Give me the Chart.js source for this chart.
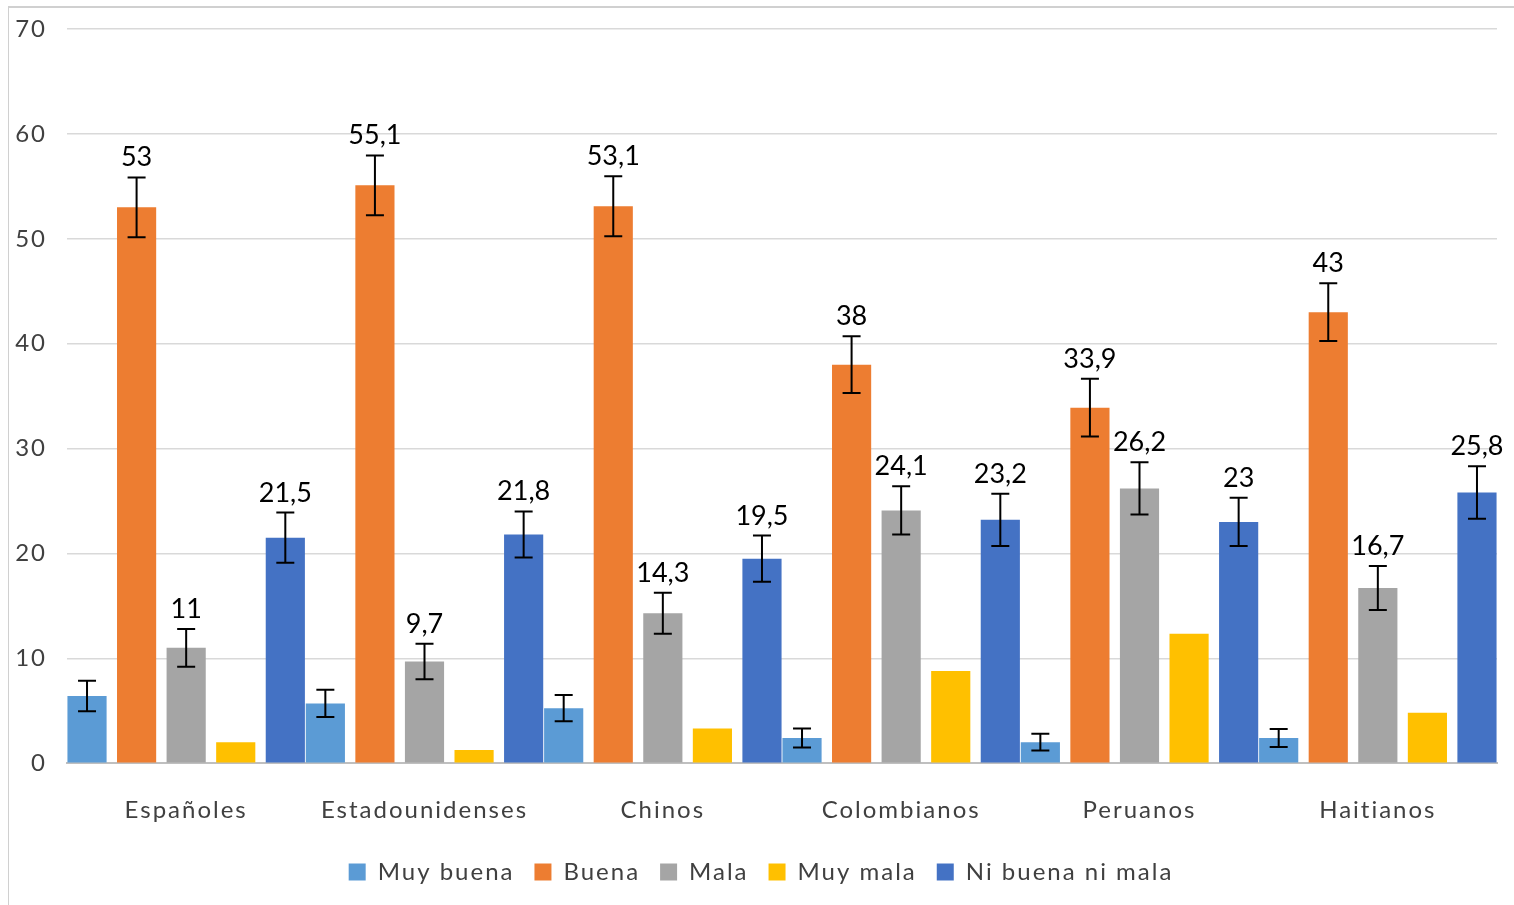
<!DOCTYPE html>
<html>
<head>
<meta charset="utf-8">
<script src="https://cdn.jsdelivr.net/npm/chart.js@4.4.1/dist/chart.umd.min.js"></script>
<style>
  body { margin: 0; background: #fff; }
  #wrap { position: relative; width: 1514px; height: 905px; }
  #frame { position: absolute; left: 8px; top: 6px; right: 0; bottom: 0;
           border-left: 1px solid #d0d0d0; border-top: 2px solid #d0d0d0; pointer-events: none; }
</style>
</head>
<body>
<div id="wrap"><canvas id="chart"></canvas><div id="frame"></div></div>
<script>
const categories = ["Españoles", "Estadounidenses", "Chinos", "Colombianos", "Peruanos", "Haitianos"];

const muyBuena = [6.4, 5.7, 5.25, 2.4, 2.0, 2.4];
const buena = [53, 55.1, 53.1, 38, 33.9, 43];
const mala = [11, 9.7, 14.3, 24.1, 26.2, 16.7];
const muyMala = [2.0, 1.25, 3.3, 8.8, 12.35, 4.8];
const niBuenaNiMala = [21.5, 21.8, 19.5, 23.2, 23, 25.8];

// error bar half-widths (same order)
const errMuyBuena = [1.45, 1.3, 1.25, 0.9, 0.8, 0.85];
const errBuena = [2.85, 2.85, 2.85, 2.7, 2.75, 2.75];
const errMala = [1.8, 1.7, 1.95, 2.3, 2.5, 2.1];
const errNi = [2.4, 2.2, 2.2, 2.5, 2.3, 2.5];

const yTicks = [0, 10, 20, 30, 40, 50, 60, 70];

const FONT = "Lato";
const TEXT = "#404040";

// letter spacing for axis and legend text (canvas state gets reset on resize)
const spacing = {
  id: "spacing",
  beforeUpdate(chart) { chart.ctx.letterSpacing = "2px"; },
  beforeLayout(chart) { chart.ctx.letterSpacing = "2px"; },
  beforeDraw(chart) { chart.ctx.letterSpacing = "2px"; }
};

// error bars + value labels
const errorBars = {
  id: "errorBars",
  afterDatasetsDraw(chart) {
    const ctx = chart.ctx;
    const y = chart.scales.y;
    ctx.save();
    ctx.letterSpacing = "0px";
    chart.data.datasets.forEach((ds, i) => {
      if (!ds.err) return;
      const meta = chart.getDatasetMeta(i);
      meta.data.forEach((bar, j) => {
        const v = ds.data[j], e = ds.err[j];
        const top = y.getPixelForValue(v + e);
        const bot = y.getPixelForValue(v - e);
        ctx.strokeStyle = "#000";
        ctx.lineWidth = 2;
        ctx.beginPath();
        ctx.moveTo(bar.x, top); ctx.lineTo(bar.x, bot);
        ctx.moveTo(bar.x - 9, top); ctx.lineTo(bar.x + 9, top);
        ctx.moveTo(bar.x - 9, bot); ctx.lineTo(bar.x + 9, bot);
        ctx.stroke();
        if (ds.showValues) {
          ctx.fillStyle = "#000";
          ctx.font = "27px " + FONT;
          ctx.textAlign = "center";
          ctx.textBaseline = "alphabetic";
          ctx.fillText(String(v).replace(".", ","), bar.x, top - 11);
        }
      });
    });
    ctx.restore();
  }
};

new Chart(document.getElementById("chart"), {
  type: "bar",
  data: {
    labels: categories,
    datasets: [
      { label: "Muy buena", data: muyBuena, err: errMuyBuena, backgroundColor: "#5B9BD5" },
      { label: "Buena", data: buena, err: errBuena, showValues: true, backgroundColor: "#ED7D31" },
      { label: "Mala", data: mala, err: errMala, showValues: true, backgroundColor: "#A5A5A5" },
      { label: "Muy mala", data: muyMala, backgroundColor: "#FFC000" },
      { label: "Ni buena ni mala", data: niBuenaNiMala, err: errNi, showValues: true, backgroundColor: "#4472C4" }
    ]
  },
  options: {
    responsive: true,
    maintainAspectRatio: false,
    animation: false,
    categoryPercentage: 1.04,
    barPercentage: 0.79,
    layout: { padding: { left: 8, right: 0, top: 6, bottom: 11 } },
    plugins: {
      tooltip: { enabled: false },
      legend: {
        position: "bottom",
        labels: {
          font: { family: FONT, size: 24 },
          color: TEXT,
          boxWidth: 17,
          boxHeight: 17,
          padding: 20
        }
      }
    },
    scales: {
      x: {
        grid: { display: false },
        border: { color: "#BFBFBF", width: 2 },
        ticks: { font: { family: FONT, size: 24 }, color: TEXT, padding: 25 },
        afterFit(scale) { scale.height -= 10; scale.paddingRight = 17; }
      },
      y: {
        min: 0,
        max: 70,
        afterBuildTicks(scale) { scale.ticks = yTicks.map(v => ({ value: v })); },
        afterFit(scale) { scale.width = 59; scale.paddingTop = 29; },
        grid: { color: "#D9D9D9", lineWidth: 1.5, drawTicks: false },
        border: { display: false },
        ticks: { font: { family: FONT, size: 24 }, color: TEXT, padding: 20 }
      }
    }
  },
  plugins: [spacing, errorBars]
});
</script>
</body>
</html>
